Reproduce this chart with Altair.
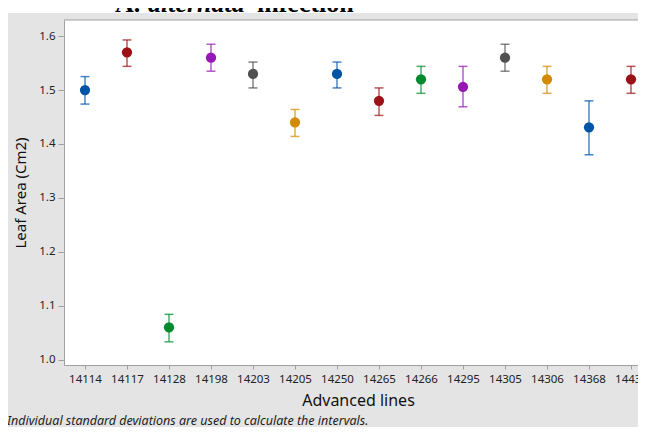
import altair as alt
import pandas as pd

lines = ["14114", "14117", "14128", "14198", "14203", "14205", "14250",
         "14265", "14266", "14295", "14305", "14306", "14368", "14438"]
means = [1.500, 1.570, 1.060, 1.560, 1.530, 1.440, 1.530,
         1.480, 1.520, 1.506, 1.560, 1.520, 1.431, 1.520]
lower = [1.474, 1.544, 1.033, 1.535, 1.504, 1.414, 1.504,
         1.453, 1.494, 1.469, 1.535, 1.494, 1.380, 1.494]
upper = [1.525, 1.593, 1.084, 1.585, 1.552, 1.464, 1.552,
         1.504, 1.544, 1.544, 1.585, 1.544, 1.480, 1.544]
palette = ["#0054a6", "#9b1116", "#008a2e", "#9616b6", "#505050", "#d48a00"]
colors = [palette[i % len(palette)] for i in range(len(lines))]

df = pd.DataFrame({"line": lines, "mean": means, "lo": lower, "hi": upper})

FONT = "Noto Sans"
W, H = 574, 345

x = alt.X("line:N", sort=lines, title="Advanced lines",
          scale=alt.Scale(type="point", range=[0, 588], padding=0.5),
          axis=alt.Axis(labelAngle=0, tickSize=4, labelPadding=4, titlePadding=8,
                        labelFontSize=11.5, titleFontSize=16, labelFont=FONT, titleFont=FONT,
                        labelColor="#222", titleColor="#111", titleFontWeight="normal",
                        domainColor="#a0a0a0", tickColor="#a0a0a0", titleX=294, zindex=1))
y = alt.Y("mean:Q", title="Leaf Area (Cm2)",
          scale=alt.Scale(domain=[0.99, 1.63], nice=False, zero=False),
          axis=alt.Axis(values=[1.0, 1.1, 1.2, 1.3, 1.4, 1.5, 1.6], format=".1f",
                        tickSize=6, labelPadding=3, titlePadding=10, grid=False,
                        labelFontSize=11.5, titleFontSize=15, labelFont=FONT, titleFont=FONT,
                        labelColor="#222", titleColor="#111", titleFontWeight="normal",
                        domainColor="#a0a0a0", tickColor="#a0a0a0", zindex=1))
color = alt.Color("line:N", scale=alt.Scale(domain=lines, range=colors), legend=None)

base = alt.Chart(df)
rules = base.mark_rule(strokeWidth=1.5, opacity=0.7).encode(x=x, y="lo:Q", y2="hi:Q", color=color)
cap_lo = base.mark_tick(size=9, thickness=1.5, opacity=0.7).encode(x=x, y="lo:Q", color=color)
cap_hi = base.mark_tick(size=9, thickness=1.5, opacity=0.7).encode(x=x, y="hi:Q", color=color)
pts = base.mark_circle(size=105, opacity=1).encode(x=x, y=y, color=color)

deco = pd.DataFrame({"k": [0]})
panel = alt.Chart(deco).mark_rect(color="#e4e4e4").encode(
    x=alt.value(-56), x2=alt.value(W), y=alt.value(-7), y2=alt.value(410))
plot_bg = alt.Chart(deco).mark_rect(color="white").encode(
    x=alt.value(0), x2=alt.value(W), y=alt.value(0), y2=alt.value(H))
top_border = alt.Chart(deco).mark_rule(color="#a0a0a0", strokeWidth=1).encode(
    x=alt.value(0), x2=alt.value(W), y=alt.value(0))

title_parts = [("A.", "normal", 51), ("alternata", "italic", 84), ("infection", "normal", 193)]
title_layers = [
    alt.Chart(deco).mark_text(text=t, font="Liberation Serif", fontSize=26, fontWeight="bold",
                              fontStyle=st, align="left", baseline="alphabetic", color="black"
                              ).encode(x=alt.value(px), y=alt.value(-8))
    for t, st, px in title_parts
]
footnote = alt.Chart(deco).mark_text(
    text="Individual standard deviations are used to calculate the intervals.",
    font=FONT, fontSize=12.5, fontStyle="italic", align="left", baseline="alphabetic",
    color="#222").encode(x=alt.value(-57), y=alt.value(405))

chart = alt.layer(panel, plot_bg, top_border, *title_layers, rules, cap_lo, cap_hi, pts,
                  footnote).properties(
    width=W, height=H,
    autosize=alt.AutoSizeParams(type="none"),
    padding={"left": 56, "top": 12, "right": 0, "bottom": 62},
    background="white",
).configure_view(stroke=None, fill="white")

chart.save("out.html", embed_options={"renderer": "svg", "actions": False})
